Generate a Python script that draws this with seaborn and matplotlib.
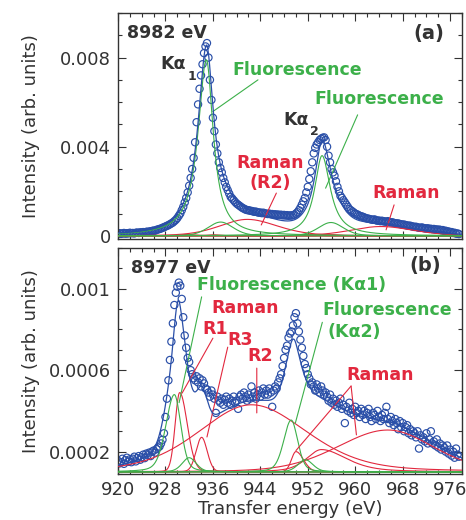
import numpy as np
import pandas as pd
import matplotlib
matplotlib.use("Agg")
import matplotlib.pyplot as plt
from matplotlib.ticker import FixedLocator, FixedFormatter, MultipleLocator
import seaborn as sns

# ---------------------------------------------------------------- data
# transfer-energy sampling grid of the measured spectra (eV)
energy = np.arange(920.0, 977.51, 0.25)

# (a) incident 8982 eV : measured intensity (arb. units), 5 eV per row
intensity_a = [
    0.00010, 0.00012, 0.00009, 0.00011, 0.00013, 0.00010, 0.00012, 0.00011, 0.00014, 0.00012,
    0.00013, 0.00011, 0.00014, 0.00015, 0.00013, 0.00016, 0.00015, 0.00017, 0.00016, 0.00018,
    0.00019, 0.00018, 0.00021, 0.00022, 0.00024, 0.00023, 0.00027, 0.00029, 0.00031, 0.00033,
    0.00036, 0.00039, 0.00042, 0.00045, 0.00048, 0.00052, 0.00056, 0.00060, 0.00066, 0.00072,
    0.00080, 0.00090, 0.00100, 0.00115, 0.00130, 0.00150, 0.00170, 0.00195, 0.00225, 0.00260,
    0.00300, 0.00350, 0.00420, 0.00510, 0.00590, 0.00660, 0.00720, 0.00770, 0.00820, 0.00850,
    0.00865, 0.00800, 0.00700, 0.00610, 0.00530, 0.00470, 0.00410, 0.00370, 0.00330, 0.00305,
    0.00285, 0.00260, 0.00240, 0.00220, 0.00205, 0.00190, 0.00175, 0.00168, 0.00160, 0.00152,
    0.00145, 0.00140, 0.00135, 0.00130, 0.00125, 0.00122, 0.00118, 0.00116, 0.00115, 0.00113,
    0.00112, 0.00110, 0.00108, 0.00109, 0.00106, 0.00104, 0.00105, 0.00102, 0.00104, 0.00101,
    0.00100, 0.00098, 0.00100, 0.00097, 0.00098, 0.00095, 0.00097, 0.00094, 0.00096, 0.00093,
    0.00095, 0.00092, 0.00094, 0.00091, 0.00093, 0.00090, 0.00092, 0.00091, 0.00093, 0.00095,
    0.00100, 0.00106, 0.00115, 0.00126, 0.00140, 0.00155, 0.00170, 0.00195, 0.00220, 0.00255,
    0.00290, 0.00330, 0.00370, 0.00395, 0.00410, 0.00420, 0.00430, 0.00436, 0.00440, 0.00442,
    0.00430, 0.00400, 0.00360, 0.00330, 0.00300, 0.00285, 0.00270, 0.00245, 0.00220, 0.00200,
    0.00180, 0.00170, 0.00160, 0.00150, 0.00140, 0.00130, 0.00120, 0.00115, 0.00110, 0.00105,
    0.00100, 0.00097, 0.00094, 0.00090, 0.00088, 0.00086, 0.00083, 0.00080, 0.00078, 0.00077,
    0.00075, 0.00073, 0.00072, 0.00074, 0.00070, 0.00068, 0.00069, 0.00066, 0.00068, 0.00065,
    0.00065, 0.00063, 0.00066, 0.00062, 0.00060, 0.00061, 0.00058, 0.00057, 0.00055, 0.00056,
    0.00053, 0.00052, 0.00050, 0.00051, 0.00048, 0.00047, 0.00045, 0.00046, 0.00043, 0.00042,
    0.00040, 0.00041, 0.00038, 0.00037, 0.00036, 0.00038, 0.00035, 0.00034, 0.00033, 0.00034,
    0.00031, 0.00032, 0.00030, 0.00031, 0.00028, 0.00029, 0.00027, 0.00028, 0.00025, 0.00026,
    0.00022, 0.00023, 0.00019, 0.00020, 0.00016, 0.00017, 0.00013, 0.00014, 0.00010, 0.00011,
    0.00008,
]

# (b) incident 8977 eV : measured intensity (arb. units), 5 eV per row
intensity_b = [
    0.000155, 0.000142, 0.000148, 0.000165, 0.000140, 0.000158, 0.000170, 0.000150, 0.000162, 0.000148,
    0.000165, 0.000175, 0.000152, 0.000168, 0.000178, 0.000160, 0.000172, 0.000185, 0.000168, 0.000190,
    0.000182, 0.000195, 0.000178, 0.000200, 0.000205, 0.000195, 0.000212, 0.000220, 0.000225, 0.000240,
    0.000258, 0.000290, 0.000370, 0.000460, 0.000550, 0.000650, 0.000740, 0.000830, 0.000920, 0.000980,
    0.001010, 0.001030, 0.001015, 0.000950, 0.000860, 0.000770, 0.000710, 0.000660, 0.000640, 0.000600,
    0.000580, 0.000560, 0.000550, 0.000570, 0.000540, 0.000560, 0.000520, 0.000550, 0.000535, 0.000510,
    0.000505, 0.000490, 0.000470, 0.000500, 0.000480, 0.000460, 0.000390, 0.000470, 0.000450, 0.000440,
    0.000460, 0.000430, 0.000455, 0.000470, 0.000440, 0.000460, 0.000430, 0.000450, 0.000470, 0.000440,
    0.000450, 0.000410, 0.000470, 0.000480, 0.000460, 0.000490, 0.000470, 0.000450, 0.000480, 0.000460,
    0.000520, 0.000470, 0.000490, 0.000460, 0.000480, 0.000500, 0.000470, 0.000490, 0.000510, 0.000480,
    0.000500, 0.000480, 0.000510, 0.000490, 0.000420, 0.000500, 0.000520, 0.000510, 0.000540, 0.000560,
    0.000580, 0.000620, 0.000660, 0.000700, 0.000720, 0.000760, 0.000780, 0.000790, 0.000820, 0.000860,
    0.000880, 0.000830, 0.000790, 0.000750, 0.000710, 0.000670, 0.000630, 0.000610, 0.000580, 0.000560,
    0.000530, 0.000540, 0.000520, 0.000500, 0.000530, 0.000510, 0.000490, 0.000520, 0.000500, 0.000480,
    0.000490, 0.000470, 0.000450, 0.000480, 0.000440, 0.000460, 0.000430, 0.000450, 0.000420, 0.000440,
    0.000460, 0.000410, 0.000430, 0.000340, 0.000420, 0.000400, 0.000440, 0.000390, 0.000410, 0.000380,
    0.000420, 0.000390, 0.000400, 0.000370, 0.000410, 0.000380, 0.000400, 0.000360, 0.000390, 0.000410,
    0.000370, 0.000350, 0.000390, 0.000380, 0.000360, 0.000400, 0.000370, 0.000350, 0.000380, 0.000360,
    0.000390, 0.000420, 0.000360, 0.000340, 0.000370, 0.000350, 0.000330, 0.000360, 0.000340, 0.000310,
    0.000350, 0.000320, 0.000340, 0.000300, 0.000320, 0.000330, 0.000290, 0.000310, 0.000280, 0.000300,
    0.000290, 0.000270, 0.000300, 0.000215, 0.000280, 0.000260, 0.000270, 0.000250, 0.000290, 0.000240,
    0.000260, 0.000300, 0.000240, 0.000250, 0.000230, 0.000260, 0.000220, 0.000240, 0.000210, 0.000230,
    0.000220, 0.000200, 0.000230, 0.000190, 0.000210, 0.000180, 0.000200, 0.000170, 0.000215, 0.000185,
    0.000175,
]

# fitted components: centre (eV), height, FWHM low side, FWHM high side, Lorentzian fraction
baseline_a = 0.0
fluo_a_center = [934.9, 937.3, 954.4, 955.9]
fluo_a_height = [0.0079, 0.00062, 0.0036, 0.0006]
fluo_a_wlo = [3.4, 5.0, 3.0, 5.0]
fluo_a_whi = [2.8, 5.0, 3.4, 5.0]
fluo_a_eta = [1.0, 0.3, 1.0, 0.3]

raman_a_center = [941.8, 964.3, 931.5, 936.0, 951.5, 956.0]
raman_a_height = [0.00074, 0.00042, 0.00006, 0.00005, 0.00006, 0.00005]
raman_a_wlo = [11.0, 12.0, 2.5, 3.0, 2.5, 3.0]
raman_a_whi = [12.0, 13.0, 4.0, 3.0, 4.0, 3.0]
raman_a_eta = [0.3, 0.3, 0.3, 0.3, 0.3, 0.3]

baseline_b = 0.0001
fluo_b_center = [929.5, 932.0, 949.2, 951.6]
fluo_b_height = [0.00038, 0.00007, 0.000255, 0.00006]
fluo_b_wlo = [3.4, 2.8, 3.0, 3.0]
fluo_b_whi = [2.6, 2.8, 2.6, 3.0]
fluo_b_eta = [0.3, 0.3, 0.3, 0.3]

raman_b_center = [930.4, 934.1, 942.5, 950.0, 954.3, 965.5]
raman_b_height = [0.00039, 0.00017, 0.00033, 0.0001, 0.00011, 0.000206]
raman_b_wlo = [1.8, 2.2, 21.0, 1.8, 6.0, 20.0]
raman_b_whi = [3.0, 2.2, 22.0, 3.0, 10.0, 18.0]
raman_b_eta = [0.1, 0.1, 0.3, 0.1, 0.5, 0.2]

xticks = [920, 928, 936, 944, 952, 960, 968, 976]
yticks_a = [0.0, 0.004, 0.008]
ylabels_a = ["0", "0.004", "0.008"]
yticks_b = [0.0002, 0.0006, 0.001]
ylabels_b = ["0.0002", "0.0006", "0.001"]

# ---------------------------------------------------------------- style
sns.set_theme(style="ticks")
plt.rcParams["font.family"] = ["DejaVu Sans"]
DARK = "#333333"
BLUE = "#2a4fa8"
GREEN = "#3cb04a"
RED = "#e2283e"


def profile(x, c, h, wlo, whi, eta):
    w = np.where(x < c, wlo, whi)
    d = (x - c) / w
    return h * ((1 - eta) * np.exp(-4 * np.log(2) * d ** 2) + eta / (1 + 4 * d ** 2))


xfine = np.linspace(919.5, 978.5, 800)

fig = plt.figure(figsize=(4.66, 5.2), dpi=100)
ax_a = fig.add_axes([118 / 466, 1 - 239 / 520, 344 / 466, 226 / 520])
ax_b = fig.add_axes([118 / 466, 1 - 474 / 520, 344 / 466, 226 / 520])


def draw_panel(ax, inten, base, fl, rm):
    df = pd.DataFrame({"E": energy, "I": inten})
    sns.scatterplot(data=df, x="E", y="I", ax=ax, marker="o", s=27, color=BLUE,
                    facecolor="none", edgecolor=BLUE, linewidth=0.85, legend=False, zorder=2)
    total = np.full_like(xfine, base)
    for color, params in ((RED, rm), (GREEN, fl)):
        for c, h, wl, wh, eta in zip(*params):
            comp = profile(xfine, c, h, wl, wh, eta)
            total = total + comp
            sns.lineplot(x=xfine, y=base + comp, ax=ax, color=color, lw=0.8,
                         estimator=None, sort=False, legend=False, zorder=3)
    sns.lineplot(x=xfine, y=total, ax=ax, color=BLUE, lw=0.9,
                 estimator=None, sort=False, legend=False, zorder=4)


draw_panel(ax_a, intensity_a, baseline_a,
           (fluo_a_center, fluo_a_height, fluo_a_wlo, fluo_a_whi, fluo_a_eta),
           (raman_a_center, raman_a_height, raman_a_wlo, raman_a_whi, raman_a_eta))
draw_panel(ax_b, intensity_b, baseline_b,
           (fluo_b_center, fluo_b_height, fluo_b_wlo, fluo_b_whi, fluo_b_eta),
           (raman_b_center, raman_b_height, raman_b_wlo, raman_b_whi, raman_b_eta))

for ax in (ax_a, ax_b):
    ax.set_xlim(920, 978)
    ax.xaxis.set_major_locator(FixedLocator(xticks))
    ax.xaxis.set_minor_locator(MultipleLocator(2))
    ax.tick_params(which="both", direction="in", top=True, right=True,
                   colors=DARK, labelcolor=DARK, labelsize=13, width=0.8)
    ax.tick_params(which="major", length=5.5, pad=5)
    ax.tick_params(which="minor", length=3)
    for s in ax.spines.values():
        s.set_color(DARK)
        s.set_linewidth(1.0)
    ax.set_ylabel("Intensity (arb. units)", fontsize=13, color=DARK)
    ax.yaxis.set_label_coords(-0.228, 0.5)

ax_a.set_ylim(-0.00014, 0.01)
ax_a.yaxis.set_major_locator(FixedLocator(yticks_a))
ax_a.yaxis.set_major_formatter(FixedFormatter(ylabels_a))
ax_a.yaxis.set_minor_locator(MultipleLocator(0.001))
ax_a.tick_params(axis="x", labelbottom=False)
ax_a.set_xlabel("")

ax_b.set_ylim(0.00009, 0.0012)
ax_b.yaxis.set_major_locator(FixedLocator(yticks_b))
ax_b.yaxis.set_major_formatter(FixedFormatter(ylabels_b))
ax_b.yaxis.set_minor_locator(MultipleLocator(0.0001))
ax_b.set_xlabel("Transfer energy (eV)", fontsize=13, color=DARK, labelpad=1)

bold = dict(fontweight="bold")


def leader(ax, p0, p1, color):
    ax.annotate("", xy=p1, xytext=p0, arrowprops=dict(arrowstyle="-", lw=0.8, color=color,
                                                       shrinkA=0, shrinkB=0))


# ---- panel (a) annotations
ax_a.text(921.5, 0.0091, "8982 eV", color=DARK, fontsize=12.5, va="center", **bold)
ax_a.text(975.0, 0.0091, "(a)", color=DARK, fontsize=14, ha="right", va="center", **bold)
ax_a.text(927.1, 0.00749, "K\u03b1", color=DARK, fontsize=12.5, va="baseline", **bold)
ax_a.text(931.7, 0.0070, "1", color=DARK, fontsize=9, va="baseline", **bold)
ax_a.text(947.9, 0.00498, "K\u03b1", color=DARK, fontsize=12.5, va="baseline", **bold)
ax_a.text(952.3, 0.00453, "2", color=DARK, fontsize=9, va="baseline", **bold)
ax_a.text(939.3, 0.00745, "Fluorescence", color=GREEN, fontsize=12.5, va="center", **bold)
leader(ax_a, (943.6, 0.0070), (936.0, 0.00558), GREEN)
ax_a.text(953.1, 0.00612, "Fluorescence", color=GREEN, fontsize=12.5, va="center", **bold)
leader(ax_a, (960.4, 0.00543), (955.0, 0.00214), GREEN)
ax_a.text(945.6, 0.00328, "Raman", color=RED, fontsize=12.5, ha="center", va="center", **bold)
ax_a.text(945.6, 0.00238, "(R2)", color=RED, fontsize=12.5, ha="center", va="center", **bold)
leader(ax_a, (946.7, 0.00192), (944.15, 0.00049), RED)
ax_a.text(968.6, 0.00193, "Raman", color=RED, fontsize=12.5, ha="center", va="center", **bold)
leader(ax_a, (966.55, 0.00139), (965.2, 0.00027), RED)

# ---- panel (b) annotations
ax_b.text(922.2, 0.001104, "8977 eV", color=DARK, fontsize=12.5, va="center", **bold)
ax_b.text(974.45, 0.001114, "(b)", color=DARK, fontsize=14, ha="right", va="center", **bold)
ax_b.text(933.3, 0.001016, "Fluorescence (K\u03b11)", color=GREEN, fontsize=12.5, va="center", **bold)
leader(ax_b, (934.1, 0.00096), (930.3, 0.00044), GREEN)
ax_b.text(935.8, 0.000903, "Raman", color=RED, fontsize=12.5, va="center", **bold)
ax_b.text(934.3, 0.0008, "R1", color=RED, fontsize=12.5, va="center", **bold)
leader(ax_b, (936.0, 0.000757), (930.8, 0.000487), RED)
ax_b.text(938.5, 0.000747, "R3", color=RED, fontsize=12.5, va="center", **bold)
leader(ax_b, (938.5, 0.000713), (935.0, 0.000272), RED)
ax_b.text(941.85, 0.000669, "R2", color=RED, fontsize=12.5, va="center", **bold)
leader(ax_b, (943.4, 0.00061), (943.4, 0.00039), RED)
ax_b.text(954.45, 0.000894, "Fluorescence", color=GREEN, fontsize=12.5, va="center", **bold)
ax_b.text(955.3, 0.000786, "(K\u03b12)", color=GREEN, fontsize=12.5, va="center", **bold)
leader(ax_b, (954.45, 0.000835), (949.9, 0.00034), GREEN)
ax_b.text(958.5, 0.000575, "Raman", color=RED, fontsize=12.5, va="center", **bold)
leader(ax_b, (959.3, 0.000522), (960.2, 0.000282), RED)
leader(ax_b, (959.3, 0.000522), (950.0, 0.000205), RED)

fig.savefig("out.png", dpi=100)
